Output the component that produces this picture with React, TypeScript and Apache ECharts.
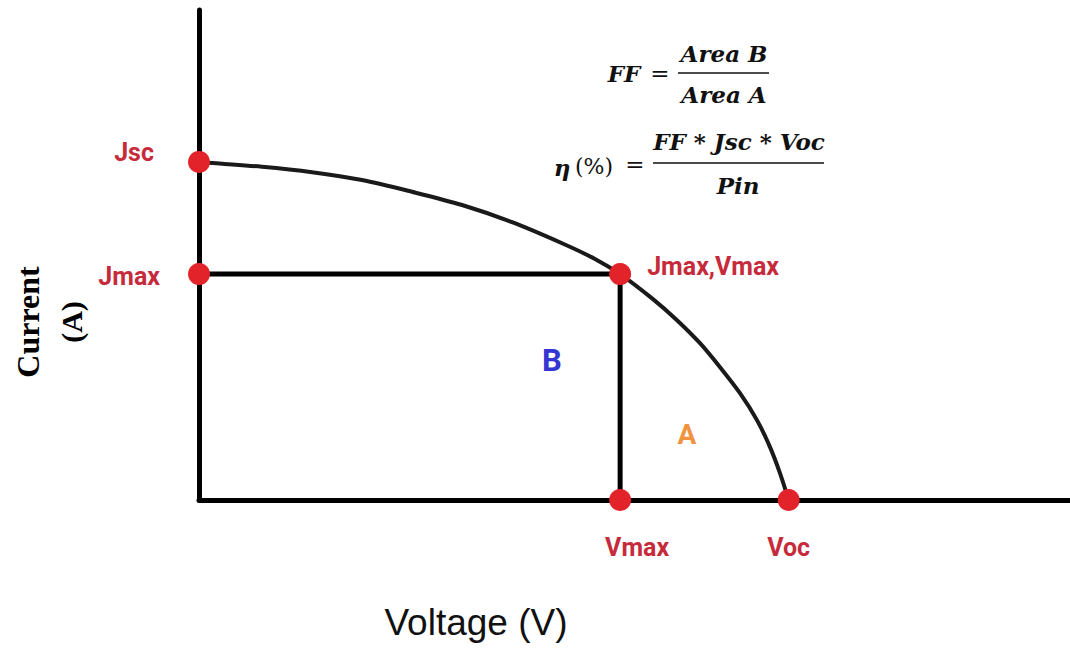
import React, { useEffect, useRef } from "react";
import * as echarts from "echarts";

// I-V curve (voltage, current) in normalized units
const curveV = [0, 0.0723, 0.1297, 0.1871, 0.2445, 0.302, 0.3594, 0.4168, 0.4546, 0.4835, 0.5212, 0.5488, 0.5752, 0.5982, 0.6211, 0.6406, 0.6556, 0.667, 0.677];
const curveJ = [0.69, 0.68, 0.669, 0.653, 0.629, 0.602, 0.567, 0.524, 0.492, 0.461, 0.41, 0.367, 0.32, 0.271, 0.218, 0.163, 0.108, 0.055, 0];

// Key points
const Jsc = 0.69;
const Voc = 0.677;
const Jmax = 0.461;
const Vmax = 0.4835;

const pointNames = ["Jsc", "Jmax", "Jmax,Vmax", "Vmax", "Voc"];
const pointV = [0, 0, Vmax, Vmax, Voc];
const pointJ = [Jsc, Jmax, Jmax, 0, 0];

const rectV = [0, Vmax, Vmax];
const rectJ = [Jmax, Jmax, 0];

export default function App() {
  const ref = useRef<HTMLDivElement>(null);
  useEffect(() => {
    if (!ref.current) return;
    const chart = echarts.init(ref.current, undefined, { renderer: "svg" });
    const labelFont = {
      fontFamily: "Roboto",
      fontWeight: "bold" as const,
      fontSize: 25,
      color: "#c62b3c",
    };
    const labelCfg: any[] = [
      { position: "left", distance: 34, offset: [0, -9] },
      { position: "left", distance: 28, offset: [0, 2] },
      { position: "right", distance: 16, offset: [0, -8] },
      { position: "bottom", distance: 24, offset: [17, 0] },
      { position: "bottom", distance: 24, offset: [0, 0] },
    ];
    const formulaFont = {
      fontFamily: "DejaVu Serif",
      fontWeight: "bold",
      fontStyle: "italic",
      fontSize: 23,
    };
    chart.setOption({
      animation: false,
      backgroundColor: "#ffffff",
      grid: { left: 199, right: 0, top: 10, bottom: 150 },
      xAxis: {
        type: "value",
        min: 0,
        max: 1,
        axisLine: { show: true, lineStyle: { color: "#000", width: 5 } },
        axisTick: { show: false },
        axisLabel: { show: false },
        splitLine: { show: false },
      },
      yAxis: {
        type: "value",
        min: 0,
        max: 1,
        axisLine: { show: true, lineStyle: { color: "#000", width: 5 } },
        axisTick: { show: false },
        axisLabel: { show: false },
        splitLine: { show: false },
      },
      series: [
        {
          type: "line",
          data: curveV.map((v, i) => [v, curveJ[i]]),
          smooth: 0.3,
          showSymbol: false,
          lineStyle: { color: "#1a1a1a", width: 4 },
          z: 2,
        },
        {
          type: "line",
          data: rectV.map((v, i) => [v, rectJ[i]]),
          showSymbol: false,
          lineStyle: { color: "#000", width: 5 },
          z: 2,
        },
        {
          type: "scatter",
          symbolSize: 22,
          itemStyle: { color: "#e2242a", opacity: 1 },
          z: 5,
          data: pointNames.map((n, i) => ({
            value: [pointV[i], pointJ[i]],
            name: n,
            label: { show: true, formatter: n, ...labelFont, ...labelCfg[i] },
          })),
        },
      ],
      graphic: [
        // formula 1
        { type: "text", x: 624, y: 73, style: { text: "FF", textAlign: "center", textVerticalAlign: "middle", fill: "#111", ...formulaFont } },
        { type: "text", x: 660, y: 73, style: { text: "=", textAlign: "center", textVerticalAlign: "middle", fill: "#111", fontFamily: "DejaVu Serif", fontSize: 23 } },
        { type: "line", shape: { x1: 678, y1: 73, x2: 769, y2: 73 }, style: { stroke: "#111", lineWidth: 1.6 } },
        { type: "text", x: 724, y: 53, style: { text: "Area B", textAlign: "center", textVerticalAlign: "middle", fill: "#111", ...formulaFont } },
        { type: "text", x: 724, y: 94, style: { text: "Area A", textAlign: "center", textVerticalAlign: "middle", fill: "#111", ...formulaFont } },
        // formula 2
        { type: "text", x: 562, y: 167, style: { text: "η", textAlign: "center", textVerticalAlign: "middle", fill: "#111", ...formulaFont } },
        { type: "text", x: 594, y: 166, style: { text: "(%)", textAlign: "center", textVerticalAlign: "middle", fill: "#111", fontFamily: "DejaVu Serif", fontSize: 22 } },
        { type: "text", x: 635, y: 164, style: { text: "=", textAlign: "center", textVerticalAlign: "middle", fill: "#111", fontFamily: "DejaVu Serif", fontSize: 23 } },
        { type: "line", shape: { x1: 653, y1: 163, x2: 824, y2: 163 }, style: { stroke: "#111", lineWidth: 1.6 } },
        { type: "text", x: 739, y: 141, style: { text: "FF * Jsc * Voc", textAlign: "center", textVerticalAlign: "middle", fill: "#111", ...formulaFont } },
        { type: "text", x: 738, y: 185, style: { text: "Pin", textAlign: "center", textVerticalAlign: "middle", fill: "#111", ...formulaFont } },
        // region labels
        { type: "text", x: 552, y: 360, style: { text: "B", textAlign: "center", textVerticalAlign: "middle", fill: "#3535d2", fontFamily: "Roboto", fontWeight: "bold", fontSize: 31 } },
        { type: "text", x: 687, y: 434, style: { text: "A", textAlign: "center", textVerticalAlign: "middle", fill: "#f0923e", fontFamily: "Roboto", fontWeight: "bold", fontSize: 28 } },
        // axis titles
        { type: "text", x: 28, y: 322, rotation: Math.PI / 2, style: { text: "Current", textAlign: "center", textVerticalAlign: "middle", fill: "#000", fontFamily: "Liberation Serif", fontWeight: "bold", fontSize: 32 } },
        { type: "text", x: 71, y: 322, rotation: Math.PI / 2, style: { text: "(A)", textAlign: "center", textVerticalAlign: "middle", fill: "#000", fontFamily: "Liberation Serif", fontWeight: "bold", fontSize: 30 } },
        { type: "text", x: 476, y: 622, style: { text: "Voltage (V)", textAlign: "center", textVerticalAlign: "middle", fill: "#111", fontFamily: "Liberation Sans", fontSize: 37 } },
      ],
    });
    return () => chart.dispose();
  }, []);
  return <div ref={ref} style={{ position: "fixed", left: 0, top: 0, width: 1070, height: 650 }} />;
}
